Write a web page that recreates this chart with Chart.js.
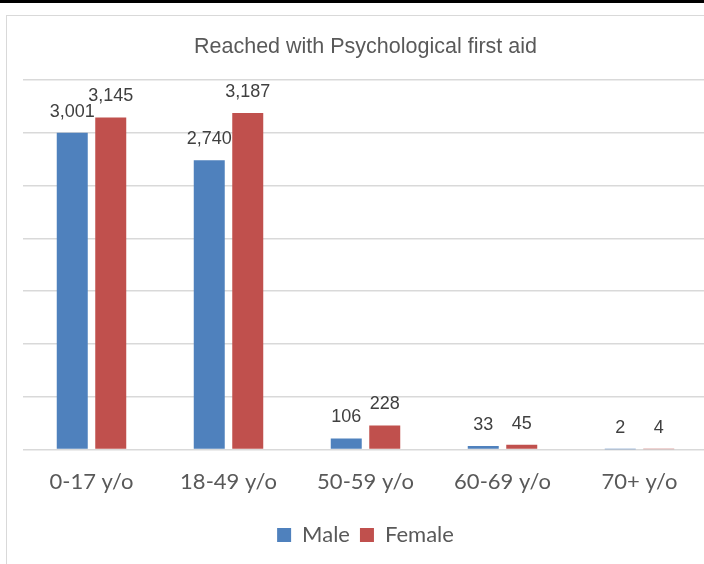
<!DOCTYPE html>
<html>
<head>
<meta charset="utf-8">
<script src="https://cdn.jsdelivr.net/npm/chart.js@4"></script>
<style>
  html, body { margin: 0; padding: 0; background: #fff; overflow: hidden; }
  body { width: 704px; height: 564px; position: relative; }
  #topbar { position: absolute; left: 0; top: 0; width: 704px; height: 3px; background: #000; }
  #frame { position: absolute; left: 6px; top: 15px; width: 760px; height: 600px;
           border: 1.5px solid #d9d9d9; box-sizing: border-box; }
  #wrap { position: absolute; left: 0; top: 0; width: 740px; height: 564px; }
</style>
</head>
<body>
<div id="topbar"></div>
<div id="frame"></div>
<div id="wrap"><canvas id="chart"></canvas></div>
<script>
// ---- data ----
const ageGroups = ['0-17 y/o', '18-49 y/o', '50-59 y/o', '60-69 y/o', '70+ y/o'];
const maleValues = [3001, 2740, 106, 33, 2];
const femaleValues = [3145, 3187, 228, 45, 4];

const COLORS = {
  male: '#4f81bd',
  female: '#c0504d',
  grid: '#d9d9d9',
  text: '#595959',
  label: '#404040',
};

// value labels above each bar
const valueLabels = {
  id: 'valueLabels',
  afterDatasetsDraw(chart) {
    const ctx = chart.ctx;
    ctx.save();
    ctx.font = '18px "Liberation Sans", Arial, sans-serif';
    ctx.fillStyle = COLORS.label;
    ctx.textAlign = 'center';
    ctx.textBaseline = 'middle';
    chart.data.datasets.forEach((ds, i) => {
      chart.getDatasetMeta(i).data.forEach((bar, j) => {
        ctx.fillText(ds.data[j].toLocaleString('en-US'), bar.x, bar.y - 21);
      });
    });
    ctx.restore();
  },
};

new Chart(document.getElementById('chart'), {
  type: 'bar',
  data: {
    labels: ageGroups,
    datasets: [
      { label: 'Male', data: maleValues, backgroundColor: COLORS.male },
      { label: 'Female', data: femaleValues, backgroundColor: COLORS.female },
    ],
  },
  options: {
    responsive: true,
    maintainAspectRatio: false,
    animation: false,
    layout: { padding: { left: 23, right: 32, top: 0, bottom: 8 } },
    datasets: { bar: { categoryPercentage: 0.562, barPercentage: 0.805 } },
    plugins: {
      title: {
        display: true,
        text: 'Reached with Psychological first aid',
        color: COLORS.text,
        font: { family: '"Liberation Sans", Arial, sans-serif', size: 21.5, weight: 'normal', lineHeight: 1.2 },
        padding: { top: 34, bottom: 20.2 },
      },
      legend: {
        position: 'bottom',
        labels: {
          color: COLORS.text,
          boxWidth: 14,
          boxHeight: 14,
          padding: 10,
          font: { family: 'Lato, sans-serif', size: 22 },
        },
      },
      tooltip: { enabled: false },
    },
    scales: {
      x: {
        grid: { display: false, drawTicks: false },
        border: { display: false },
        ticks: { color: COLORS.text, padding: 19, font: { family: 'Lato, sans-serif', size: 22 } },
      },
      y: {
        min: 0,
        max: 3500,
        ticks: { display: false, stepSize: 500 },
        grid: { color: COLORS.grid, lineWidth: 1.5, drawTicks: false },
        border: { display: false },
      },
    },
  },
  plugins: [valueLabels],
});
</script>
</body>
</html>
